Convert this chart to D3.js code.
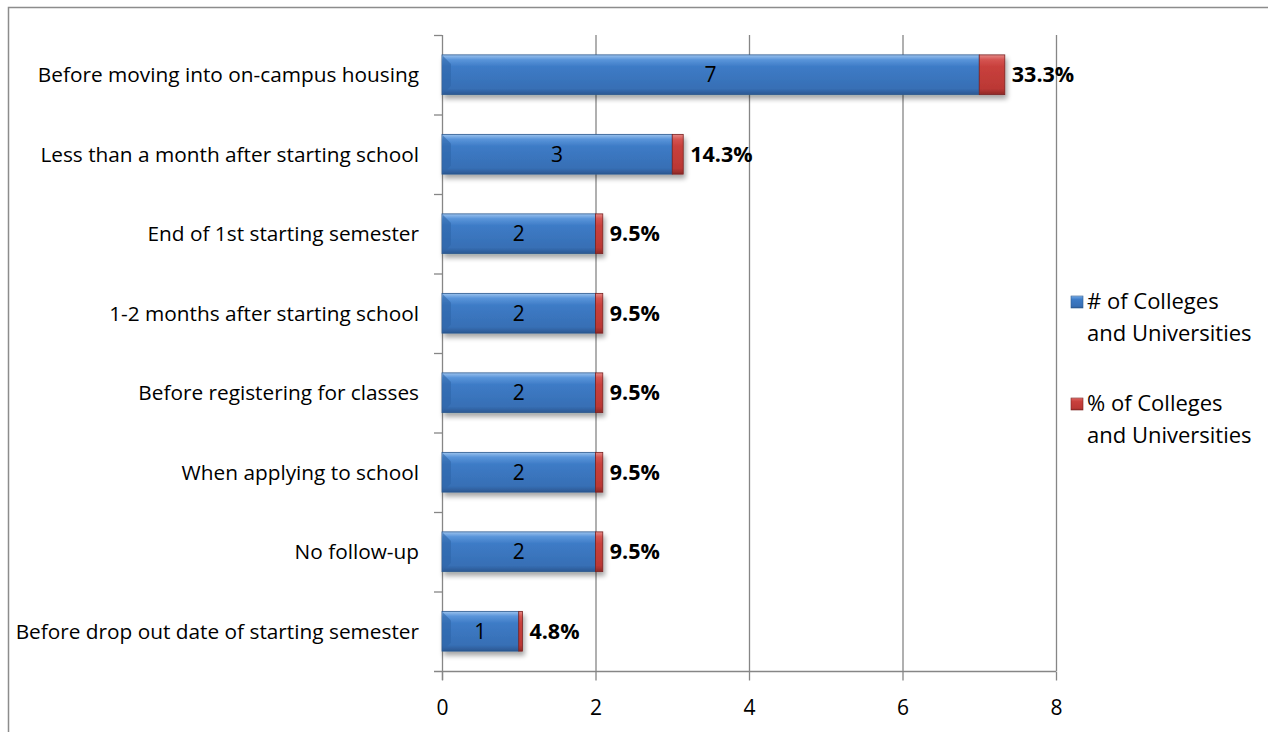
<!DOCTYPE html>
<html>
<head>
<meta charset="utf-8">
<script src="https://cdn.jsdelivr.net/npm/d3@7"></script>
<style>
  body { margin: 0; background: #fff; }
  text { font-family: "Open Sans", Lato, sans-serif; }
</style>
</head>
<body>
<script>
// categories top to bottom
var categories = [
  "Before moving into on-campus housing",
  "Less than a month after starting school",
  "End of 1st starting semester",
  "1-2 months after starting school",
  "Before registering for classes",
  "When applying to school",
  "No follow-up",
  "Before drop out date of starting semester"
]
var counts = [7, 3, 2, 2, 2, 2, 2, 1]
var percents = [33.3, 14.3, 9.5, 9.5, 9.5, 9.5, 9.5, 4.8]
var xTicks = [0, 2, 4, 6, 8]
var legendLabels = [["# of Colleges", "and Universities"], ["% of Colleges", "and Universities"]]

var W = 1268, H = 732
var plot = { left: 442, right: 1056, top: 35, bottom: 671 }
var FONT = "'Open Sans', Lato, sans-serif"

var svg = d3.select("body").append("svg")
  .attr("width", W)
  .attr("height", H)

var defs = svg.append("defs")

function grad(id, stops) {
  var g = defs.append("linearGradient").attr("id", id)
    .attr("x1", 0).attr("y1", 0).attr("x2", 0).attr("y2", 1)
  stops.forEach(function(s) {
    g.append("stop").attr("offset", s[0]).attr("stop-color", s[1])
  })
}
grad("blueG", [[0, "#9cc3ee"], [0.12, "#5a95da"], [0.3, "#3d7bc6"], [0.85, "#376fb5"], [1, "#2b5791"]])
grad("redG", [[0, "#e58a87"], [0.12, "#d55451"], [0.3, "#c8403c"], [0.85, "#bb3835"], [1, "#8e2a27"]])

var shadow = defs.append("filter").attr("id", "shadow")
  .attr("x", "-10%").attr("y", "-20%").attr("width", "130%").attr("height", "160%")
shadow.append("feGaussianBlur").attr("in", "SourceAlpha").attr("stdDeviation", 2.5)
shadow.append("feOffset").attr("dx", 2).attr("dy", 4).attr("result", "b")
shadow.append("feComponentTransfer").append("feFuncA").attr("type", "linear").attr("slope", 0.35)
var merge = shadow.append("feMerge")
merge.append("feMergeNode")
merge.append("feMergeNode").attr("in", "SourceGraphic")

// outer frame
svg.append("path")
  .attr("d", "M8.5," + H + "V7.5H" + W)
  .attr("fill", "none")
  .attr("stroke", "#8c8c8c")
  .attr("stroke-width", 1.5)

var x = d3.scaleLinear().domain([0, 8]).range([plot.left, plot.right])
var y = d3.scaleBand().domain(categories).range([plot.top, plot.bottom]).paddingInner(0.5).paddingOuter(0.25)

// gridlines
svg.append("g").selectAll("line")
  .data(xTicks.slice(1))
  .enter().append("line")
  .attr("x1", function(d) { return x(d) + 0.5 })
  .attr("x2", function(d) { return x(d) + 0.5 })
  .attr("y1", plot.top)
  .attr("y2", plot.bottom)
  .attr("stroke", "#868686")
  .attr("stroke-width", 1.3)

// y axis with ticks at band boundaries
var yAxis = svg.append("g")
yAxis.append("line")
  .attr("x1", plot.left + 0.5).attr("x2", plot.left + 0.5)
  .attr("y1", plot.top).attr("y2", plot.bottom + 9)
  .attr("stroke", "#868686").attr("stroke-width", 1.3)
var step = (plot.bottom - plot.top) / categories.length
yAxis.selectAll("line.tk")
  .data(d3.range(categories.length))
  .enter().append("line").attr("class", "tk")
  .attr("x1", plot.left - 8).attr("x2", plot.left)
  .attr("y1", function(i) { return plot.top + i * step + 0.5 })
  .attr("y2", function(i) { return plot.top + i * step + 0.5 })
  .attr("stroke", "#868686").attr("stroke-width", 1.3)

yAxis.selectAll("text")
  .data(categories)
  .enter().append("text")
  .attr("x", plot.left - 23)
  .attr("y", function(d) { return y(d) + y.bandwidth() / 2 })
  .attr("dy", "0.35em")
  .attr("text-anchor", "end")
  .attr("font-size", 20.8)
  .attr("fill", "#000")
  .text(function(d) { return d })

// x axis
var xAxis = svg.append("g")
  .attr("transform", "translate(0," + (plot.bottom + 0.5) + ")")
  .call(d3.axisBottom(x).tickValues(xTicks).tickSize(9).tickSizeOuter(0).tickPadding(20))
xAxis.select(".domain").attr("stroke", "#868686").attr("stroke-width", 1.3)
  .attr("d", "M" + (plot.left - 8) + ",0H" + plot.right)
xAxis.selectAll(".tick line").attr("stroke", "#868686").attr("stroke-width", 1.3)
xAxis.selectAll(".tick text").attr("font-size", 21).attr("fill", "#000")
  .style("font-family", FONT)

// bars
var rows = categories.map(function(c, i) {
  return { cat: c, n: counts[i], p: percents[i] }
})

var bars = svg.append("g").selectAll("g")
  .data(rows)
  .enter().append("g")
  .attr("filter", "url(#shadow)")

bars.append("rect")
  .attr("x", x(0))
  .attr("y", function(d) { return y(d.cat) })
  .attr("width", function(d) { return x(d.n) - x(0) })
  .attr("height", y.bandwidth())
  .attr("fill", "url(#blueG)")
  .attr("stroke", "#2d5a8e")
  .attr("stroke-width", 0.8)

bars.append("rect")
  .attr("x", function(d) { return x(d.n) })
  .attr("y", function(d) { return y(d.cat) })
  .attr("width", function(d) { return x(d.n + d.p / 100) - x(d.n) })
  .attr("height", y.bandwidth())
  .attr("fill", "url(#redG)")
  .attr("stroke", "#7a2321")
  .attr("stroke-width", 0.8)

// bevel left edge
bars.append("path")
  .attr("d", function(d) {
    var x0 = x(0) + 1, y0 = y(d.cat) + 1, h = y.bandwidth() - 2
    return "M" + x0 + "," + y0 + "L" + (x0 + 8) + "," + (y0 + 8) + "L" + (x0 + 8) + "," + (y0 + h - 8) + "L" + x0 + "," + (y0 + h) + "Z"
  })
  .attr("fill", "#2f66a8")
  .attr("opacity", 0.6)

svg.append("g").selectAll("text")
  .data(rows)
  .enter().append("text")
  .attr("x", function(d) { return (x(0) + x(d.n)) / 2 })
  .attr("y", function(d) { return y(d.cat) + y.bandwidth() / 2 })
  .attr("dy", "0.35em")
  .attr("text-anchor", "middle")
  .attr("font-size", 21)
  .attr("fill", "#000")
  .text(function(d) { return d.n })

svg.append("g").selectAll("text")
  .data(rows)
  .enter().append("text")
  .attr("x", function(d) { return x(d.n + d.p / 100) + 7 })
  .attr("y", function(d) { return y(d.cat) + y.bandwidth() / 2 })
  .attr("dy", "0.35em")
  .attr("font-size", 21.5)
  .attr("font-weight", "bold")
  .attr("fill", "#000")
  .text(function(d) { return d.p.toFixed(1) + "%" })

// legend
var legend = svg.append("g")
var legendY = [301, 403]
var legendFill = ["url(#blueG)", "url(#redG)"]
var legendStroke = ["#2d5a8e", "#7a2321"]
legendLabels.forEach(function(lines, i) {
  legend.append("rect")
    .attr("x", 1071).attr("y", legendY[i] - 5)
    .attr("width", 12).attr("height", 12)
    .attr("fill", legendFill[i])
    .attr("stroke", legendStroke[i]).attr("stroke-width", 0.6)
  lines.forEach(function(t, j) {
    legend.append("text")
      .attr("x", 1087)
      .attr("y", legendY[i] + j * 32)
      .attr("dy", "0.35em")
      .attr("font-size", 22)
      .attr("fill", "#000")
      .text(t)
  })
})
</script>
</body>
</html>
